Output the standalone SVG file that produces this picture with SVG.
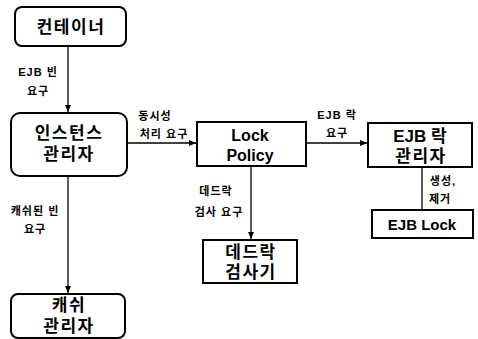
<svg xmlns="http://www.w3.org/2000/svg" width="478" height="339" viewBox="0 0 478 339">
<style>
.box{fill:#fff;stroke:#000;stroke-width:2}
.t{font-family:"Liberation Sans","Noto Sans CJK KR",sans-serif;font-weight:bold;font-size:17px;text-anchor:middle;fill:#000}
.k{letter-spacing:1.5px}
.l{font-family:"Liberation Sans","Noto Sans CJK KR",sans-serif;font-weight:bold;font-size:11px;letter-spacing:1px;text-anchor:middle;fill:#000}
.c{stroke:#000;stroke-width:1.3;fill:none}
</style>
<defs>
<marker id="a" markerWidth="8" markerHeight="8" refX="7" refY="4" orient="auto" markerUnits="userSpaceOnUse">
<path d="M0,1 L7,4 L0,7 Z" fill="#000"/>
</marker>
</defs>
<rect width="478" height="339" fill="#fff"/>
<g id="connectors">
<line class="c" x1="68" y1="46" x2="68" y2="112" marker-end="url(#a)"/>
<line class="c" x1="127" y1="143" x2="196" y2="143" marker-end="url(#a)"/>
<line class="c" x1="68" y1="176" x2="68" y2="293" marker-end="url(#a)"/>
<line class="c" x1="251" y1="166" x2="251" y2="239" marker-end="url(#a)"/>
<line class="c" x1="306" y1="143" x2="367" y2="143" marker-end="url(#a)"/>
<line class="c" x1="422" y1="167" x2="422" y2="210"/>
<text class="l" x="38" y="76">EJB 빈</text>
<text class="l" x="38" y="95">요구</text>
<text class="l" x="155" y="120">동시성</text>
<text class="l" x="164" y="138">처리 요구</text>
<text class="l" x="35" y="215">캐쉬된 빈</text>
<text class="l" x="35" y="233">요구</text>
<text class="l" x="216" y="195">데드락</text>
<text class="l" x="219" y="216">검사 요구</text>
<text class="l" x="337" y="119">EJB 락</text>
<text class="l" x="337" y="137">요구</text>
<text class="l" x="443" y="185">생성,</text>
<text class="l" x="440" y="203">제거</text>
</g>
<g id="container">
<rect class="box" x="15" y="7" width="111" height="39" rx="7"/>
<text class="t k" x="71" y="33">컨테이너</text>
</g>
<g id="instance-manager">
<rect class="box" x="11" y="113" width="116" height="63" rx="9"/>
<text class="t k" x="69" y="139">인스턴스</text>
<text class="t k" x="69" y="160">관리자</text>
</g>
<g id="lock-policy">
<rect class="box" x="197" y="122" width="109" height="44"/>
<text class="t" x="250" y="141" style="font-size:16px">Lock</text>
<text class="t" x="250" y="161" style="font-size:16px">Policy</text>
</g>
<g id="ejb-lock-manager">
<rect class="box" x="368" y="123" width="104" height="44"/>
<text class="t" x="420" y="142">EJB 락</text>
<text class="t k" x="421" y="162">관리자</text>
</g>
<g id="ejb-lock">
<rect class="box" x="372" y="210" width="101" height="28"/>
<text class="t" x="422" y="230" style="font-size:15px">EJB Lock</text>
</g>
<g id="deadlock-checker">
<rect class="box" x="203" y="240" width="94" height="43"/>
<text class="t k" x="251" y="258">데드락</text>
<text class="t k" x="251" y="278">검사기</text>
</g>
<g id="cache-manager">
<rect class="box" x="11" y="294" width="114" height="44" rx="7"/>
<text class="t k" x="69" y="311">캐쉬</text>
<text class="t k" x="69" y="332">관리자</text>
</g>
</svg>
